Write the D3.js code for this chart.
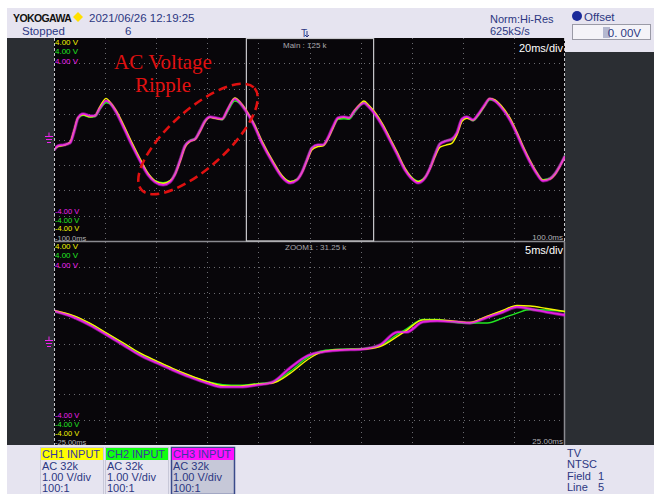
<!DOCTYPE html>
<html><head><meta charset="utf-8">
<script src="https://cdn.jsdelivr.net/npm/d3@7"></script>
<style>body{margin:0;background:#fff}svg{display:block}</style>
</head><body><svg id="c" width="654" height="494" font-family="'Liberation Sans',Arial,sans-serif"></svg>
<script>
// ---- data (upper: main window, ms / V) ----
const mainTime = [-100.0,-98.4,-96.1,-93.7,-92.2,-90.6,-88.6,-85.9,-84.0,-82.0,-79.6,-78.1,-75.7,-73.0,-69.5,-66.3,-63.2,-60.5,-57.3,-54.6,-52.6,-50.6,-48.7,-46.8,-44.8,-42.9,-40.9,-38.9,-36.6,-34.2,-31.9,-29.2,-27.2,-24.9,-22.1,-18.6,-14.3,-10.8,-7.6,-4.9,-2.9,-1.0,1.0,3.3,5.3,7.2,9.2,11.2,13.5,15.5,17.4,19.8,21.3,23.3,25.6,28.8,31.5,34.3,37.4,39.7,42.5,45.2,47.2,49.1,51.1,53.4,55.8,57.7,59.7,61.6,64.0,65.9,68.3,70.6,72.6,75.0,78.5,81.2,83.6,86.3,89.0,91.4,94.1,96.1,98.0,100.0];
const mainCH1 = [-0.38,-0.27,-0.23,-0.10,0.35,0.87,0.97,0.89,0.93,1.30,1.62,1.48,1.15,0.62,-0.12,-0.76,-1.33,-1.63,-1.73,-1.63,-1.38,-0.86,-0.30,-0.08,0.00,0.30,0.70,0.87,0.83,0.80,1.22,1.64,1.48,1.18,0.70,-0.06,-0.86,-1.42,-1.66,-1.58,-1.30,-0.85,-0.40,-0.28,-0.25,0.02,0.45,0.83,0.87,0.85,1.12,1.40,1.52,1.34,1.08,0.58,0.05,-0.50,-1.14,-1.47,-1.66,-1.50,-1.14,-0.68,-0.30,-0.22,-0.14,0.18,0.72,0.84,0.76,0.95,1.30,1.62,1.56,1.34,0.84,0.28,-0.27,-0.83,-1.31,-1.60,-1.56,-1.38,-1.06,-0.66];
const mainCH2 = [-0.40,-0.28,-0.22,-0.12,0.30,0.82,0.95,0.88,0.90,1.20,1.45,1.40,1.10,0.58,-0.16,-0.80,-1.35,-1.62,-1.70,-1.62,-1.32,-0.78,-0.24,-0.04,0.04,0.36,0.74,0.88,0.84,0.78,1.14,1.52,1.42,1.14,0.68,-0.10,-0.88,-1.43,-1.65,-1.56,-1.26,-0.78,-0.32,-0.22,-0.22,0.04,0.46,0.80,0.82,0.80,1.04,1.34,1.46,1.32,1.05,0.55,0.02,-0.53,-1.16,-1.46,-1.64,-1.48,-1.10,-0.60,-0.16,-0.05,0.00,0.24,0.78,0.86,0.74,0.92,1.28,1.56,1.52,1.30,0.80,0.25,-0.30,-0.85,-1.32,-1.58,-1.52,-1.33,-1.02,-0.62];
const mainCH3 = [-0.41,-0.25,-0.21,-0.13,0.30,0.85,1.01,0.93,0.93,1.24,1.52,1.44,1.09,0.54,-0.21,-0.84,-1.39,-1.67,-1.79,-1.67,-1.35,-0.80,-0.25,-0.06,0.02,0.34,0.73,0.89,0.85,0.81,1.20,1.60,1.44,1.13,0.65,-0.13,-0.92,-1.47,-1.71,-1.59,-1.28,-0.80,-0.33,-0.21,-0.21,0.06,0.50,0.85,0.89,0.85,1.09,1.36,1.44,1.28,1.01,0.50,-0.02,-0.57,-1.20,-1.51,-1.71,-1.51,-1.12,-0.61,-0.17,-0.06,0.02,0.26,0.81,0.89,0.77,0.97,1.32,1.60,1.52,1.28,0.77,0.22,-0.33,-0.88,-1.35,-1.63,-1.55,-1.35,-1.04,-0.65];
// ---- data (lower: zoom window) ----
const zoomTime = [-25.0,-23.1,-21.5,-19.8,-18.2,-16.6,-14.9,-13.4,-11.7,-10.0,-8.5,-6.8,-5.1,-3.6,-1.9,-0.2,1.3,3.0,5.2,6.9,8.6,9.5,11.1,12.5,14.4,15.7,17.4,18.9,20.3,21.6,23.2,25.0];
const zoomCH1 = [1.30,1.10,0.80,0.40,0.02,-0.37,-0.70,-0.98,-1.26,-1.50,-1.66,-1.68,-1.60,-1.56,-1.18,-0.64,-0.32,-0.24,-0.22,-0.12,0.28,0.52,0.93,0.93,0.87,0.83,1.08,1.30,1.50,1.48,1.38,1.26];
const zoomCH2 = [1.26,1.08,0.78,0.38,0.00,-0.40,-0.72,-1.00,-1.28,-1.50,-1.62,-1.64,-1.58,-1.52,-1.10,-0.56,-0.28,-0.22,-0.20,-0.08,0.36,0.58,0.95,0.95,0.83,0.81,0.81,1.00,1.20,1.34,1.32,1.26];
const zoomCH3 = [1.28,1.04,0.73,0.33,-0.06,-0.45,-0.77,-1.04,-1.32,-1.56,-1.71,-1.71,-1.63,-1.52,-0.96,-0.49,-0.33,-0.26,-0.22,-0.06,0.45,0.45,0.85,0.89,0.85,0.81,1.04,1.24,1.44,1.36,1.24,1.12];
const channels = ["CH1 INPUT","CH2 INPUT","CH3 INPUT"];
const chInfo = ["AC 32k","1.00 V/div","100:1"];
const voltTop = ["4.00 V","4.00 V","4.00 V"];
const voltBot = ["-4.00 V","-4.00 V","-4.00 V"];
const mainTimeLabels = ["-100.0ms","100.0ms"];
const zoomTimeLabels = ["-25.00ms","25.00ms"];
const trigInfo = ["TV","NTSC","Field","Line"];
const trigVals = ["","","1","5"];

const col = {ch1:"#f4f400", ch2:"#22e622", ch3:"#f020f0", bg:"#e6e4f0", ink:"#2c3782"};
const svg = d3.select("#c");

// backgrounds
svg.append("rect").attr("width",654).attr("height",494).attr("fill","#fff");
svg.append("rect").attr("x",7).attr("y",8).attr("width",647).attr("height",486).attr("fill",col.bg);
svg.append("rect").attr("x",7).attr("y",38).attr("width",47).attr("height",407).attr("fill","#2b2e33");
svg.append("rect").attr("x",565).attr("y",52).attr("width",89).attr("height",393).attr("fill","#2b2e33");
svg.append("rect").attr("x",54).attr("y",38).attr("width",511).attr("height",407).attr("fill","#08060a");

// scales
const xMain = d3.scaleLinear().domain([-100,100]).range([54,565]);
const yMain = d3.scaleLinear().domain([-4,4]).range([241,38]);
const xZoom = d3.scaleLinear().domain([-25,25]).range([54,565]);
const yZoom = d3.scaleLinear().domain([-4,4]).range([445,242]);

function grid(x, y, xt, yt){
  const g = svg.append("g").attr("stroke","#6a6a70").attr("stroke-width",1).attr("stroke-dasharray","1,4");
  xt.slice(1,-1).forEach(t=>g.append("line").attr("x1",Math.round(x(t))+0.5).attr("x2",Math.round(x(t))+0.5).attr("y1",y.range()[1]).attr("y2",y.range()[0]));
  yt.slice(1,-1).forEach(v=>g.append("line").attr("y1",Math.round(y(v))+0.5).attr("y2",Math.round(y(v))+0.5).attr("x1",54).attr("x2",565));
}
grid(xMain,yMain,d3.range(-100,101,20),d3.range(-4,5,1));
grid(xZoom,yZoom,d3.range(-25,26,5),d3.range(-4,5,1));

// borders
svg.append("line").attr("x1",54).attr("x2",565).attr("y1",241.5).attr("y2",241.5).attr("stroke","#8a8a90").attr("stroke-width",1.5);
svg.append("line").attr("x1",54.5).attr("x2",54.5).attr("y1",38).attr("y2",445).attr("stroke","#c8c8cc").attr("stroke-dasharray","3,2");
svg.append("line").attr("x1",564.5).attr("x2",564.5).attr("y1",38).attr("y2",241).attr("stroke","#c8c8cc").attr("stroke-dasharray","3,2");
svg.append("line").attr("x1",564.5).attr("x2",564.5).attr("y1",242).attr("y2",445).attr("stroke","#8a8a90").attr("stroke-width",1.5);
// zoom window box
svg.append("rect").attr("x",xMain(-24.9)+0.5).attr("y",38.5).attr("width",xMain(24.9)-xMain(-24.9)).attr("height",202.5)
  .attr("fill","none").attr("stroke","#c8c8cc").attr("stroke-width",1.2);

// clips
const defs = svg.append("defs");
defs.append("clipPath").attr("id","cm").append("rect").attr("x",55).attr("y",38).attr("width",510).attr("height",203);
defs.append("clipPath").attr("id","cz").append("rect").attr("x",55).attr("y",242).attr("width",510).attr("height",203);

function traces(x,y,t,series,clip){
  const g = svg.append("g").attr("clip-path",`url(#${clip})`).attr("fill","none").attr("stroke-linejoin","round");
  const line = d3.line().x((d,i)=>x(t[i])).y(d=>y(d)).curve(d3.curveMonotoneX);
  g.append("path").attr("d",line(series[2])).attr("stroke",col.ch3).attr("stroke-width",3.4).attr("opacity",0.5);
  g.append("path").attr("d",line(series[1])).attr("stroke",col.ch2).attr("stroke-width",1.4);
  g.append("path").attr("d",line(series[0])).attr("stroke",col.ch1).attr("stroke-width",1.4);
  g.append("path").attr("d",line(series[2])).attr("stroke",col.ch3).attr("stroke-width",1.8).attr("opacity",0.9);
}
traces(xMain,yMain,mainTime,[mainCH1,mainCH2,mainCH3],"cm");
traces(xZoom,yZoom,zoomTime,[zoomCH1,zoomCH2,zoomCH3],"cz");

// ground markers
[yMain(0),yZoom(0)].forEach(gy=>{
  const g = svg.append("g").attr("stroke",col.ch3).attr("stroke-width",1);
  g.append("line").attr("x1",45).attr("x2",53).attr("y1",gy-3).attr("y2",gy-3);
  g.append("line").attr("x1",46).attr("x2",52).attr("y1",gy).attr("y2",gy);
  g.append("line").attr("x1",47).attr("x2",51).attr("y1",gy+3).attr("y2",gy+3);
  g.append("line").attr("x1",49).attr("x2",49).attr("y1",gy-7).attr("y2",gy-3);
});

// screen labels
const chCols = [col.ch1,col.ch2,col.ch3];
function sLabel(x,y,s,c,anchor,fs){svg.append("text").attr("x",x).attr("y",y).attr("fill",c).attr("font-size",fs||8).attr("text-anchor",anchor||"start").text(s);}
voltTop.forEach((s,i)=>sLabel(55,45+i*9.3,s,chCols[i]));
voltBot.forEach((s,i)=>sLabel(55,214+i*8.5,s,chCols[2-i],"start",7.5));
sLabel(55,240.5,mainTimeLabels[0],"#b0b0b4","start",7.5);
sLabel(563,240,mainTimeLabels[1],"#b0b0b4","end");
voltTop.forEach((s,i)=>sLabel(55,248.5+i*9.6,s,chCols[i]));
voltBot.forEach((s,i)=>sLabel(55,418+i*8.8,s,chCols[2-i],"start",7.5));
sLabel(55,445,zoomTimeLabels[0],"#b0b0b4","start",7.5);
sLabel(563,444,zoomTimeLabels[1],"#b0b0b4","end");
sLabel(283,48,"Main : 125 k","#a8a8ac");
sLabel(285,250,"ZOOM1 : 31.25 k","#a8a8ac");
svg.append("text").attr("x",563).attr("y",52).attr("fill","#fff").attr("font-size",11).attr("text-anchor","end").text("20ms/div");
svg.append("text").attr("x",563).attr("y",254).attr("fill","#fff").attr("font-size",11).attr("text-anchor","end").text("5ms/div");

// annotation
const serif = '"Liberation Serif","DejaVu Serif",serif';
svg.append("text").attr("x",163).attr("y",69).attr("fill","#e01010").attr("font-size",21).style("font-family",serif).attr("text-anchor","middle").text("AC Voltage");
svg.append("text").attr("x",163).attr("y",92).attr("fill","#e01010").attr("font-size",21).style("font-family",serif).attr("text-anchor","middle").text("Ripple");
svg.append("ellipse").attr("cx",198).attr("cy",139).attr("rx",76).attr("ry",29)
  .attr("transform","rotate(-42 198 139)").attr("fill","none").attr("stroke","#e01010").attr("stroke-width",2.6).attr("stroke-dasharray","9,5");

// header
svg.append("text").attr("x",13).attr("y",22).attr("font-size",10.5).attr("font-weight","bold").attr("letter-spacing",-0.6).attr("fill","#111").text("YOKOGAWA");
svg.append("path").attr("d","M78,12 L83,17 L78,22 L73,17 Z").attr("fill","#ffe000");
svg.append("text").attr("x",89).attr("y",22).attr("font-size",11.5).attr("fill",col.ink).text("2021/06/26 12:19:25");
svg.append("text").attr("x",22).attr("y",35).attr("font-size",11.5).attr("fill",col.ink).text("Stopped");
svg.append("text").attr("x",125).attr("y",35).attr("font-size",11.5).attr("fill",col.ink).text("6");
svg.append("text").attr("x",301).attr("y",37).attr("font-size",10).attr("fill",col.ink).text("T");
svg.append("path").attr("d","M307,31 L307,37 M305,35 L307,37 L309,35").attr("stroke",col.ink).attr("fill","none");
svg.append("text").attr("x",490).attr("y",23).attr("font-size",11).attr("fill",col.ink).text("Norm:Hi-Res");
svg.append("text").attr("x",490).attr("y",35).attr("font-size",11).attr("fill",col.ink).text("625kS/s");
svg.append("circle").attr("cx",577).attr("cy",16).attr("r",5).attr("fill","#1a2a9a");
svg.append("text").attr("x",584).attr("y",21).attr("font-size",11.5).attr("fill",col.ink).text("Offset");
svg.append("rect").attr("x",572.5).attr("y",24.5).attr("width",78).attr("height",15).attr("fill","#f4f3f8").attr("stroke","#9a9aa6");
svg.append("rect").attr("x",603).attr("y",27).attr("width",7).attr("height",11).attr("fill","#b4b8d0");
svg.append("text").attr("x",641).attr("y",37).attr("font-size",11.5).attr("fill",col.ink).attr("text-anchor","end").text("0. 00V");

// channel boxes
channels.forEach((s,i)=>{
  const x0 = [40,105,171][i];
  const g = svg.append("g");
  g.append("rect").attr("x",x0+0.5).attr("y",447.5).attr("width",63).attr("height",47).attr("fill",i===2?"#c6c8d8":col.bg)
    .attr("stroke",i===2?"#3a4a8a":"#c8c8d8").attr("stroke-width",i===2?1.5:1);
  g.append("rect").attr("x",x0+1).attr("y",448).attr("width",62).attr("height",12).attr("fill",[ "#ffff00","#10ff10","#ff10ff"][i]);
  g.append("text").attr("x",x0+2).attr("y",458).attr("font-size",11).attr("fill","#3838a0").text(s);
  chInfo.forEach((t,j)=>g.append("text").attr("x",x0+2).attr("y",470+j*10.8).attr("font-size",11).attr("fill",col.ink).text(t));
});
trigInfo.forEach((t,j)=>{
  svg.append("text").attr("x",567).attr("y",457+j*11.4).attr("font-size",11).attr("fill",col.ink).text(t);
  if(trigVals[j]) svg.append("text").attr("x",598).attr("y",457+j*11.4).attr("font-size",11).attr("fill",col.ink).text(trigVals[j]);
});
</script></body></html>
